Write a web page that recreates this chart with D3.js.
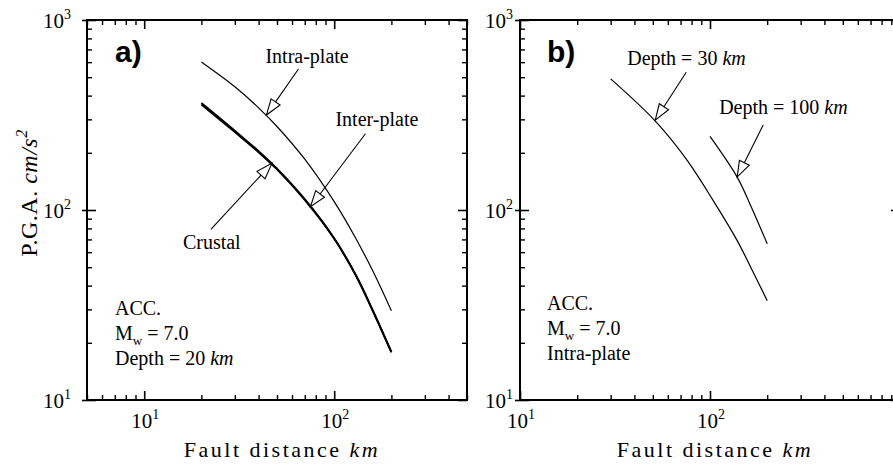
<!DOCTYPE html>
<html>
<head>
<meta charset="utf-8">
<script src="https://cdn.jsdelivr.net/npm/d3@7/dist/d3.min.js"></script>
<style>
  html, body { margin: 0; padding: 0; background: #fff; }
  svg { display: block; }
  text { font-family: "Liberation Serif", "Times New Roman", "DejaVu Serif", serif; fill: #000; }
</style>
</head>
<body>
<svg id="chart" width="893" height="466"></svg>
<script>
// ---------------- DATA ----------------
// Panel a) : Mw = 7.0, Depth = 20 km
const distA       = [20, 30, 40, 50, 70, 100, 130, 160, 200];
const pgaIntra    = [601, 445, 345, 275, 185, 110.6, 70.8, 47.6, 29.5];
const pgaCrustal  = [366, 261, 204, 165, 114, 71, 45.5, 29.5, 17.9];
const pgaInter    = [359, 257, 201.5, 163.5, 113, 70.5, 45.2, 29.3, 17.8];
// Panel b) : Mw = 7.0, Intra-plate
const distDepth30  = [30, 51, 76, 104, 139, 168, 200];
const pgaDepth30   = [490, 297, 182, 112, 69, 47.5, 33.3];
const distDepth100 = [100, 139, 162, 200];
const pgaDepth100  = [244, 149, 108, 66.5];

// axis tick values
const yMajorTicks = [10, 100, 1000];
const xMajorTicksA = [10, 100];
const xMajorTicksB = [10, 100, 1000];
const xLabelTicksA = [10, 100];
const xLabelTicksB = [10, 100];

// annotations: label text and the point (distance, PGA) that the arrow touches
const annotA = [
  { label: "Intra-plate", tip: [44, 316] },
  { label: "Inter-plate", tip: [75, 104] },
  { label: "Crustal",     tip: [47, 176] }
];
const annotB = [
  { label: "Depth = 30 ",  unit: "km", tip: [51.5, 297] },
  { label: "Depth = 100 ", unit: "km", tip: [139, 149] }
];

// ---------------- LAYOUT / STYLE ----------------
const svg = d3.select("#chart");
const Y0 = 20, Y1 = 400;
const panels = [
  { id: "a", xDomain: [5, 500],   x0: 87,  x1: 467, yLabelEnd: 71,  tag: "a)",
    xMajors: xMajorTicksA, xLabels: xLabelTicksA,
    series: [
      { d: distA, v: pgaIntra, w: 1.2 },
      { d: distA, v: pgaCrustal, w: 1.9 },
      { d: distA, v: pgaInter, w: 1.9 }
    ],
    annots: annotA,
    // tail offset from tip (px) and label offset from tail (px)
    arrowStyle: [ { t: [32, -46], l: [-33, -6] },
                  { t: [55, -73], l: [-30, -8] },
                  { t: [-61, 66], l: [-28, 20] } ],
    info: ["ACC.", "MW", "Depth = 20 |km"], infoX: 115, infoY: 315, yTitle: true },
  { id: "b", xDomain: [10, 1000], x0: 520, x1: 900, yLabelEnd: 513, tag: "b)",
    xMajors: xMajorTicksB, xLabels: xLabelTicksB,
    series: [
      { d: distDepth30, v: pgaDepth30, w: 1.2 },
      { d: distDepth100, v: pgaDepth100, w: 1.2 }
    ],
    annots: annotB,
    arrowStyle: [ { t: [31, -48], l: [-59, -7] },
                  { t: [26, -52], l: [-44, -11] } ],
    info: ["ACC.", "MW", "Intra-plate"], infoX: 547, infoY: 310, yTitle: false }
];

function minorTicks(domain) {
  const out = [];
  const lo = Math.floor(Math.log10(domain[0])), hi = Math.ceil(Math.log10(domain[1]));
  for (let e = lo; e < hi; e++) {
    for (let m = 2; m <= 9; m++) {
      const v = m * Math.pow(10, e);
      if (v >= domain[0] - 1e-9 && v <= domain[1] + 1e-9) out.push(v);
    }
  }
  return out;
}

function powLabel(sel, exp) {
  sel.text("10");
  sel.append("tspan").attr("dy", -9).attr("font-size", 14).text(exp);
}

panels.forEach(p => {
  const x = d3.scaleLog().domain(p.xDomain).range([p.x0, p.x1]);
  const y = d3.scaleLog().domain([10, 1000]).range([Y1, Y0]);
  const g = svg.append("g");
  const xMin = minorTicks(p.xDomain);
  const yMin = minorTicks([10, 1000]);

  function styleAxis(ax, w) {
    ax.select(".domain").remove();
    ax.selectAll("line").attr("stroke", "#000").attr("stroke-width", w);
    ax.selectAll("text").remove();
  }
  // bottom
  styleAxis(g.append("g").attr("transform", `translate(0,${Y1})`)
    .call(d3.axisBottom(x).tickValues(p.xMajors).tickSize(-9).tickFormat("")), 1.6);
  styleAxis(g.append("g").attr("transform", `translate(0,${Y1})`)
    .call(d3.axisBottom(x).tickValues(xMin).tickSize(-5).tickFormat("")), 1.4);
  // top
  styleAxis(g.append("g").attr("transform", `translate(0,${Y0})`)
    .call(d3.axisTop(x).tickValues(p.xMajors).tickSize(-9).tickFormat("")), 1.6);
  styleAxis(g.append("g").attr("transform", `translate(0,${Y0})`)
    .call(d3.axisTop(x).tickValues(xMin).tickSize(-5).tickFormat("")), 1.4);
  // left (major ticks cross the frame)
  styleAxis(g.append("g").attr("transform", `translate(${p.x0},0)`)
    .call(d3.axisLeft(y).tickValues(yMajorTicks).tickSize(-9).tickFormat("")), 1.6);
  styleAxis(g.append("g").attr("transform", `translate(${p.x0},0)`)
    .call(d3.axisLeft(y).tickValues(yMajorTicks).tickSize(5).tickFormat("")), 1.6);
  styleAxis(g.append("g").attr("transform", `translate(${p.x0},0)`)
    .call(d3.axisLeft(y).tickValues(yMin).tickSize(-5).tickFormat("")), 1.4);
  // right
  styleAxis(g.append("g").attr("transform", `translate(${p.x1},0)`)
    .call(d3.axisRight(y).tickValues(yMajorTicks).tickSize(-9).tickFormat("")), 1.6);
  styleAxis(g.append("g").attr("transform", `translate(${p.x1},0)`)
    .call(d3.axisRight(y).tickValues(yMin).tickSize(-5).tickFormat("")), 1.4);

  // frame
  g.append("rect").attr("x", p.x0).attr("y", Y0)
    .attr("width", p.x1 - p.x0).attr("height", Y1 - Y0)
    .attr("fill", "none").attr("stroke", "#000").attr("stroke-width", 2);

  // tick labels
  yMajorTicks.forEach(v => {
    g.append("text").attr("x", p.yLabelEnd).attr("y", y(v) + 8)
      .attr("text-anchor", "end").attr("font-size", 21)
      .call(powLabel, Math.round(Math.log10(v)));
  });
  p.xLabels.forEach(v => {
    g.append("text").attr("x", x(v) + 1).attr("y", 428)
      .attr("text-anchor", "middle").attr("font-size", 21)
      .call(powLabel, Math.round(Math.log10(v)));
  });

  // x title
  const xt = g.append("text").attr("x", (p.x0 + p.x1) / 2 + 5).attr("y", 457)
    .attr("text-anchor", "middle").attr("font-size", 22).attr("letter-spacing", 2.5)
    .text("Fault distance ");
  xt.append("tspan").attr("font-style", "italic").text(" km");

  // y title
  if (p.yTitle) {
    const yt = g.append("text").attr("transform", `translate(37,193) rotate(-90)`)
      .attr("text-anchor", "middle").attr("font-size", 24).attr("letter-spacing", 0.5)
      .text("P.G.A.  ");
    yt.append("tspan").attr("font-style", "italic").text("cm/s");
    yt.append("tspan").attr("font-style", "italic").attr("dy", -10).attr("font-size", 16).text("2");
  }

  // panel tag
  g.append("text").attr("x", p.id === "a" ? 115 : 547).attr("y", 62)
    .style("font-family", "'Liberation Sans', Arial, sans-serif")
    .attr("font-weight", "bold").attr("font-size", 30).text(p.tag);

  // curves
  const line = d3.line().x(d => x(d[0])).y(d => y(d[1])).curve(d3.curveCatmullRom.alpha(0.5));
  p.series.forEach(s => {
    g.append("path").datum(s.d.map((d, i) => [d, s.v[i]]))
      .attr("d", line).attr("fill", "none").attr("stroke", "#000")
      .attr("stroke-width", s.w);
  });

  // annotations with hollow arrowheads
  p.annots.forEach((a, i) => {
    const st = p.arrowStyle[i];
    const tx = x(a.tip[0]), ty = y(a.tip[1]);
    const sx = tx + st.t[0], sy = ty + st.t[1];
    const len = Math.hypot(tx - sx, ty - sy);
    const ux = (tx - sx) / len, uy = (ty - sy) / len;
    const L = 16, W = 5.5;
    const bx = tx - ux * L, by = ty - uy * L;
    g.append("line").attr("x1", sx).attr("y1", sy).attr("x2", bx).attr("y2", by)
      .attr("stroke", "#000").attr("stroke-width", 1.1);
    g.append("polygon")
      .attr("points", [[tx, ty], [bx - uy * W, by + ux * W], [bx + uy * W, by - ux * W]]
        .map(q => q.join(",")).join(" "))
      .attr("fill", "#fff").attr("stroke", "#000").attr("stroke-width", 1.1);
    const t = g.append("text").attr("x", sx + st.l[0]).attr("y", sy + st.l[1])
      .attr("font-size", 20).text(a.label);
    if (a.unit) t.append("tspan").attr("font-style", "italic").text(a.unit);
  });

  // info block
  p.info.forEach((s, i) => {
    const t = g.append("text").attr("x", p.infoX).attr("y", p.infoY + i * 25)
      .attr("font-size", 20);
    if (s === "MW") {
      t.text("M");
      t.append("tspan").attr("font-size", 13).attr("dy", 5).text("w");
      t.append("tspan").attr("dy", -5).text(" = 7.0");
    } else if (s.includes("|")) {
      const [a, b] = s.split("|");
      t.text(a);
      t.append("tspan").attr("font-style", "italic").text(b);
    } else {
      t.text(s);
    }
  });
});
</script>
</body>
</html>
